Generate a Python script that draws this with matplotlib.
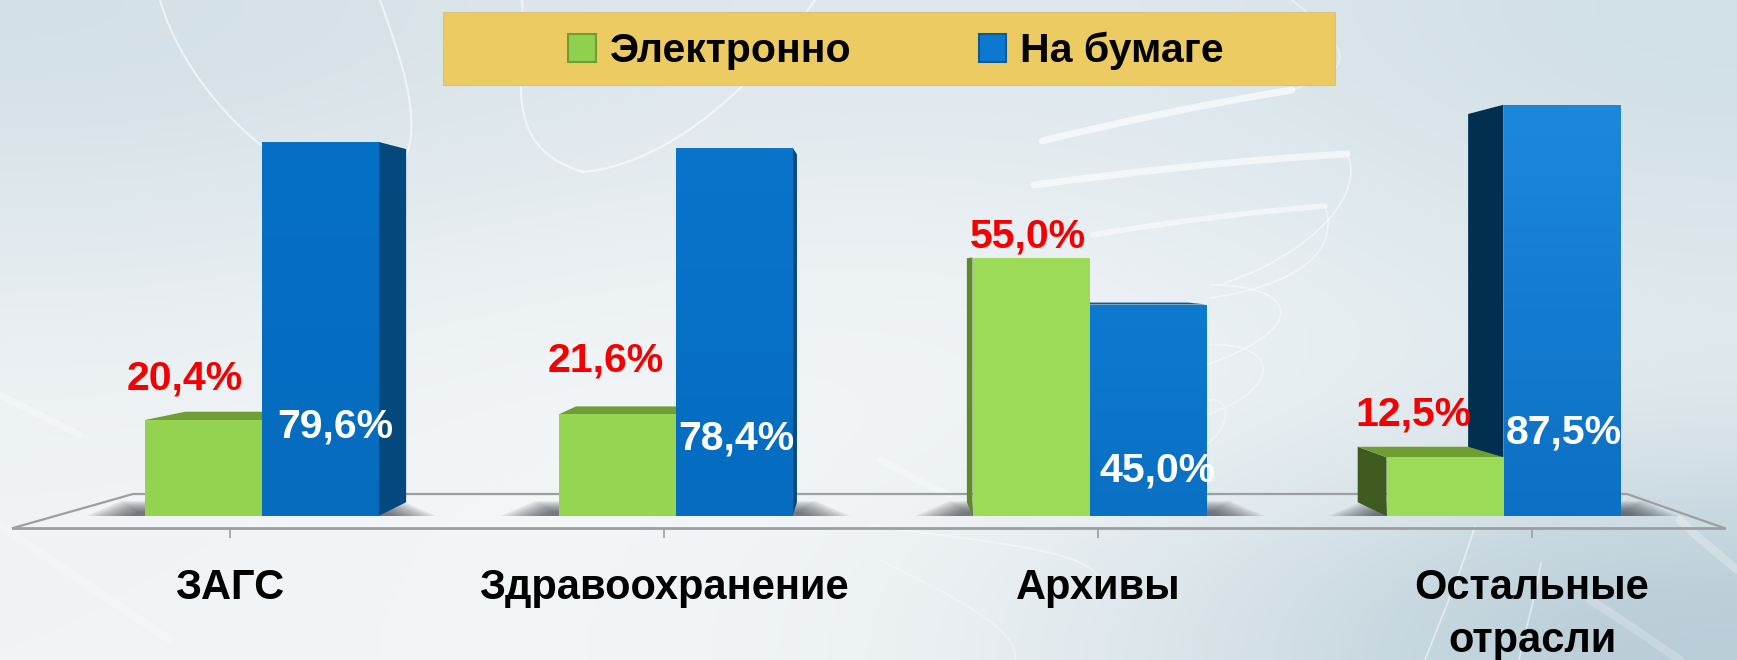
import matplotlib
matplotlib.use('Agg')
import matplotlib.pyplot as plt
import numpy as np
from matplotlib.colors import to_rgb
from matplotlib.patches import Patch, Polygon, Rectangle, PathPatch
from matplotlib.path import Path

plt.rcParams['font.family'] = ['Liberation Sans', 'DejaVu Sans']

# data
categories = ["ЗАГС", "Здравоохранение", "Архивы", "Остальные\nотрасли"]
electronic = [20.4, 21.6, 55.0, 12.5]
paper = [79.6, 78.4, 45.0, 87.5]
series_names = ["Электронно", "На бумаге"]

# colours per group
green_front = ['#93d34f', '#95d551', '#9bdb57', '#9bdb57']
green_top = '#6f9e35'
green_side = ['#5f8a2c', '#5f8a2c', '#5f8a2c', '#3f5a1e']
blue_top_col = ['#0670c6', '#0875ca', '#0d7acf', '#1c88dc']
blue_bot_col = ['#056cbe', '#056cc0', '#0a70c4', '#0c70c4']
blue_side = ['#03497e', '#03497e', '#0a5c9c', '#022f50']

# pixel layout of the picture
W, H = 1737, 660
PX_X0, PX_XU = 230.0, 434.0    # first tick, pixels per category
PX_Y0, PX_YU = 516.0, 4.7      # baseline, pixels per percent


def X(px):
    return (px - PX_X0) / PX_XU


def Y(py):
    return (PX_Y0 - py) / PX_YU


bar_w = X(347)
bound0, bound_step = X(261.5), 414.0 / PX_XU
vp = (X(872), Y(270))
depth = 0.056

fig = plt.figure(figsize=(W / 100, H / 100), dpi=100)

# === background ===
bg = fig.add_axes([0, 0, 1, 1], zorder=0)
grid = [['#d3e0e7', '#dbe5ea', '#dfe8ed', '#dde7ec', '#d0dfe6'],
        ['#e3ebef', '#e9eff2', '#eef2f5', '#e8eff2', '#dce7ec'],
        ['#eef2f5', '#f3f6f8', '#f3f6f8', '#eef3f5', '#e2ebef'],
        ['#f0f4f6', '#f3f6f7', '#eff3f5', '#d8e3e9', '#b6cbd6']]
bg.imshow(np.array([[to_rgb(c) for c in row] for row in grid]), extent=(0, W, H, 0),
          aspect='auto', interpolation='bicubic')

strokes = [
    ([(160, 0), (180, 70), (235, 125), (262, 146)], 1.5, 0.6),
    ([(380, 0), (405, 70), (425, 130), (400, 168)], 1.5, 0.6),
    ([(522, 0), (528, 70), (495, 145), (583, 172)], 1.5, 0.6),
    ([(583, 172), (660, 165), (745, 100), (815, 0)], 1.5, 0.6),
    ([(1042, 141), (1120, 122), (1200, 105), (1292, 90)], 5, 0.65),
    ([(1034, 185), (1130, 172), (1240, 160), (1347, 154)], 5, 0.6),
    ([(1092, 235), (1170, 222), (1250, 212), (1325, 206)], 4, 0.5),
    ([(1347, 154), (1365, 190), (1320, 250), (1225, 283)], 1.3, 0.5),
    ([(1325, 206), (1340, 250), (1300, 285), (1210, 298)], 1.3, 0.45),
    ([(1210, 285), (1300, 285), (1310, 330), (1205, 365)], 1.3, 0.45),
    ([(1205, 345), (1280, 340), (1285, 390), (1205, 415)], 1.3, 0.4),
    ([(1205, 400), (1235, 395), (1230, 430), (1205, 445)], 1.3, 0.35),
    ([(1292, 0), (1340, 40), (1370, 70), (1290, 90)], 1.3, 0.4),
    ([(870, 525), (1000, 545), (1110, 550), (1100, 590)], 1.3, 0.4),
    ([(880, 560), (960, 600), (1020, 630), (1015, 660)], 1.3, 0.3),
    ([(1475, 526), (1455, 590), (1440, 620), (1425, 660)], 1.3, 0.5),
    ([(1541, 563), (1535, 600), (1525, 630), (1519, 660)], 1.3, 0.5),
    ([(0, 395), (30, 410), (50, 420), (80, 435)], 5, 0.3),
    ([(0, 525), (50, 560), (110, 600), (170, 640)], 6, 0.2),
    ([(1680, 520), (1700, 540), (1720, 555), (1737, 570)], 6, 0.25),
    ([(1590, 600), (1630, 625), (1650, 640), (1680, 660)], 6, 0.2),
    ([(1000, 390), (1020, 400), (1040, 410), (1060, 420)], 5, 0.3),
    ([(880, 460), (900, 470), (925, 485), (950, 495)], 5, 0.3),
]
for pts, lw, a in strokes:
    codes = [Path.MOVETO, Path.CURVE4, Path.CURVE4, Path.CURVE4]
    bg.add_patch(PathPatch(Path(pts, codes), fc='none', ec='white', lw=lw, alpha=a, capstyle='round'))
bg.set_xlim(0, W)
bg.set_ylim(H, 0)
bg.axis('off')

# === chart axes: x in categories, y in percent ===
ax = fig.add_axes([0, 0, 1, 1], zorder=1)
ax.patch.set_alpha(0)
xlim = (X(0), X(W))
ylim = (Y(H), Y(0))

# floor
floor_y0, floor_y1 = Y(528), Y(494)
ax.add_patch(Polygon([(X(13), floor_y0), (X(133), floor_y1), (X(1627), floor_y1), (X(1724), floor_y0)],
                     fc='white', alpha=0.12, ec='none', zorder=1))
ax.plot([X(13), X(133), X(1627), X(1724)], [floor_y0, floor_y1, floor_y1, floor_y0],
        color='#9b9fa1', lw=1.6, zorder=2)

for i in range(len(categories)):
    left = bound0 + i * bound_step - bar_w
    right = bound0 + i * bound_step + bar_w
    # soft shadow under each pair of bars
    for k in range(12):
        pad = (58 - 4 * k) / PX_XU
        ax.add_patch(Polygon([(left - pad, 0), (left - pad * 0.4, Y(501 + k)),
                              (right + pad * 0.4, Y(501 + k)), (right + pad, 0)],
                             fc='#30343a', ec='none', alpha=0.08, zorder=3))


def back(x, y):
    return x + depth * (vp[0] - x), y + depth * (vp[1] - y)


def draw_back_faces(x0, x1, h, side_col, top_col):
    # side face turned to the vanishing point
    if x1 < vp[0]:
        xs = x1
    elif x0 > vp[0]:
        xs = x0
    else:
        xs = None
    if xs is not None:
        ax.add_patch(Polygon([(xs, 0), back(xs, 0), back(xs, h), (xs, h)], fc=side_col, ec='none', zorder=4))
    if h < vp[1]:
        ax.add_patch(Polygon([(x0, h), back(x0, h), back(x1, h), (x1, h)], fc=top_col, ec='none', zorder=4))


for i in range(len(categories)):
    b = bound0 + i * bound_step
    draw_back_faces(b, b + bar_w, paper[i], blue_side[i], '#0a5c9c')
    draw_back_faces(b - bar_w, b, electronic[i], green_side[i], green_top)

x_bound = [bound0 + i * bound_step for i in range(len(categories))]
ax.bar(x_bound, electronic, width=-bar_w, align='edge', color=green_front, zorder=5)
blue_bars = ax.bar(x_bound, paper, width=bar_w, align='edge', color=blue_bot_col, zorder=5)
for i, bar in enumerate(blue_bars):
    grad = np.linspace(to_rgb(blue_top_col[i]), to_rgb(blue_bot_col[i]), 64)[:, None, :]
    im = ax.imshow(grad, extent=(x_bound[i], x_bound[i] + bar_w, 0, paper[i]), aspect='auto', zorder=5.5)
    im.set_clip_path(bar)

# === value labels ===
label_font = dict(fontsize=29.5, fontweight='bold', ha='center', va='baseline', zorder=8)
red_x = [185, 606, 1028, 1414]
red_y = [390, 372, 247, 426]
white_x = [335, 736, 1158, 1564]
white_y = [437, 449, 481, 443]
for i in range(len(categories)):
    ax.text(X(red_x[i]), Y(red_y[i]), f"{electronic[i]:.1f}".replace('.', ',') + '%', color='#f50000', **label_font)
    ax.text(X(white_x[i]), Y(white_y[i]), f"{paper[i]:.1f}".replace('.', ',') + '%', color='white', **label_font)

# === axis ===
ax.set_xlim(xlim)
ax.set_ylim(ylim)
ax.set_yticks([])
for s in ['top', 'left', 'right']:
    ax.spines[s].set_visible(False)
ax.spines['bottom'].set_position(('data', floor_y0))
ax.spines['bottom'].set_bounds(X(13), X(1724))
ax.spines['bottom'].set_color('#9b9fa1')
ax.spines['bottom'].set_linewidth(2)
ax.set_xticks(range(len(categories)))
ax.set_xticklabels(categories, fontsize=30, fontweight='bold', color='black', linespacing=1.42)
ax.tick_params(axis='x', length=7.5, width=1.2, color='#9b9fa1', pad=21)

# === legend ===
ax.add_patch(Rectangle((X(443), Y(85)), X(1335) - X(443), Y(12) - Y(85), fc='#eccb62', ec='#d9c27a', lw=0.8, zorder=6))
handles = [Patch(fc='#8fd04c', ec='#6f9e35', lw=1.5), Patch(fc='#0c78cf', ec='#0a5c9c', lw=1.5)]
ax.legend(handles, series_names, ncol=2, frameon=False, prop=dict(size=29.5, weight='bold'),
          handlelength=0.68, handleheight=0.68, handletextpad=0.34, columnspacing=3.1,
          loc='center', bbox_to_anchor=(896 / W, 1 - 51 / H), borderpad=0).set_zorder(7)

fig.savefig('out.png', dpi=100)
